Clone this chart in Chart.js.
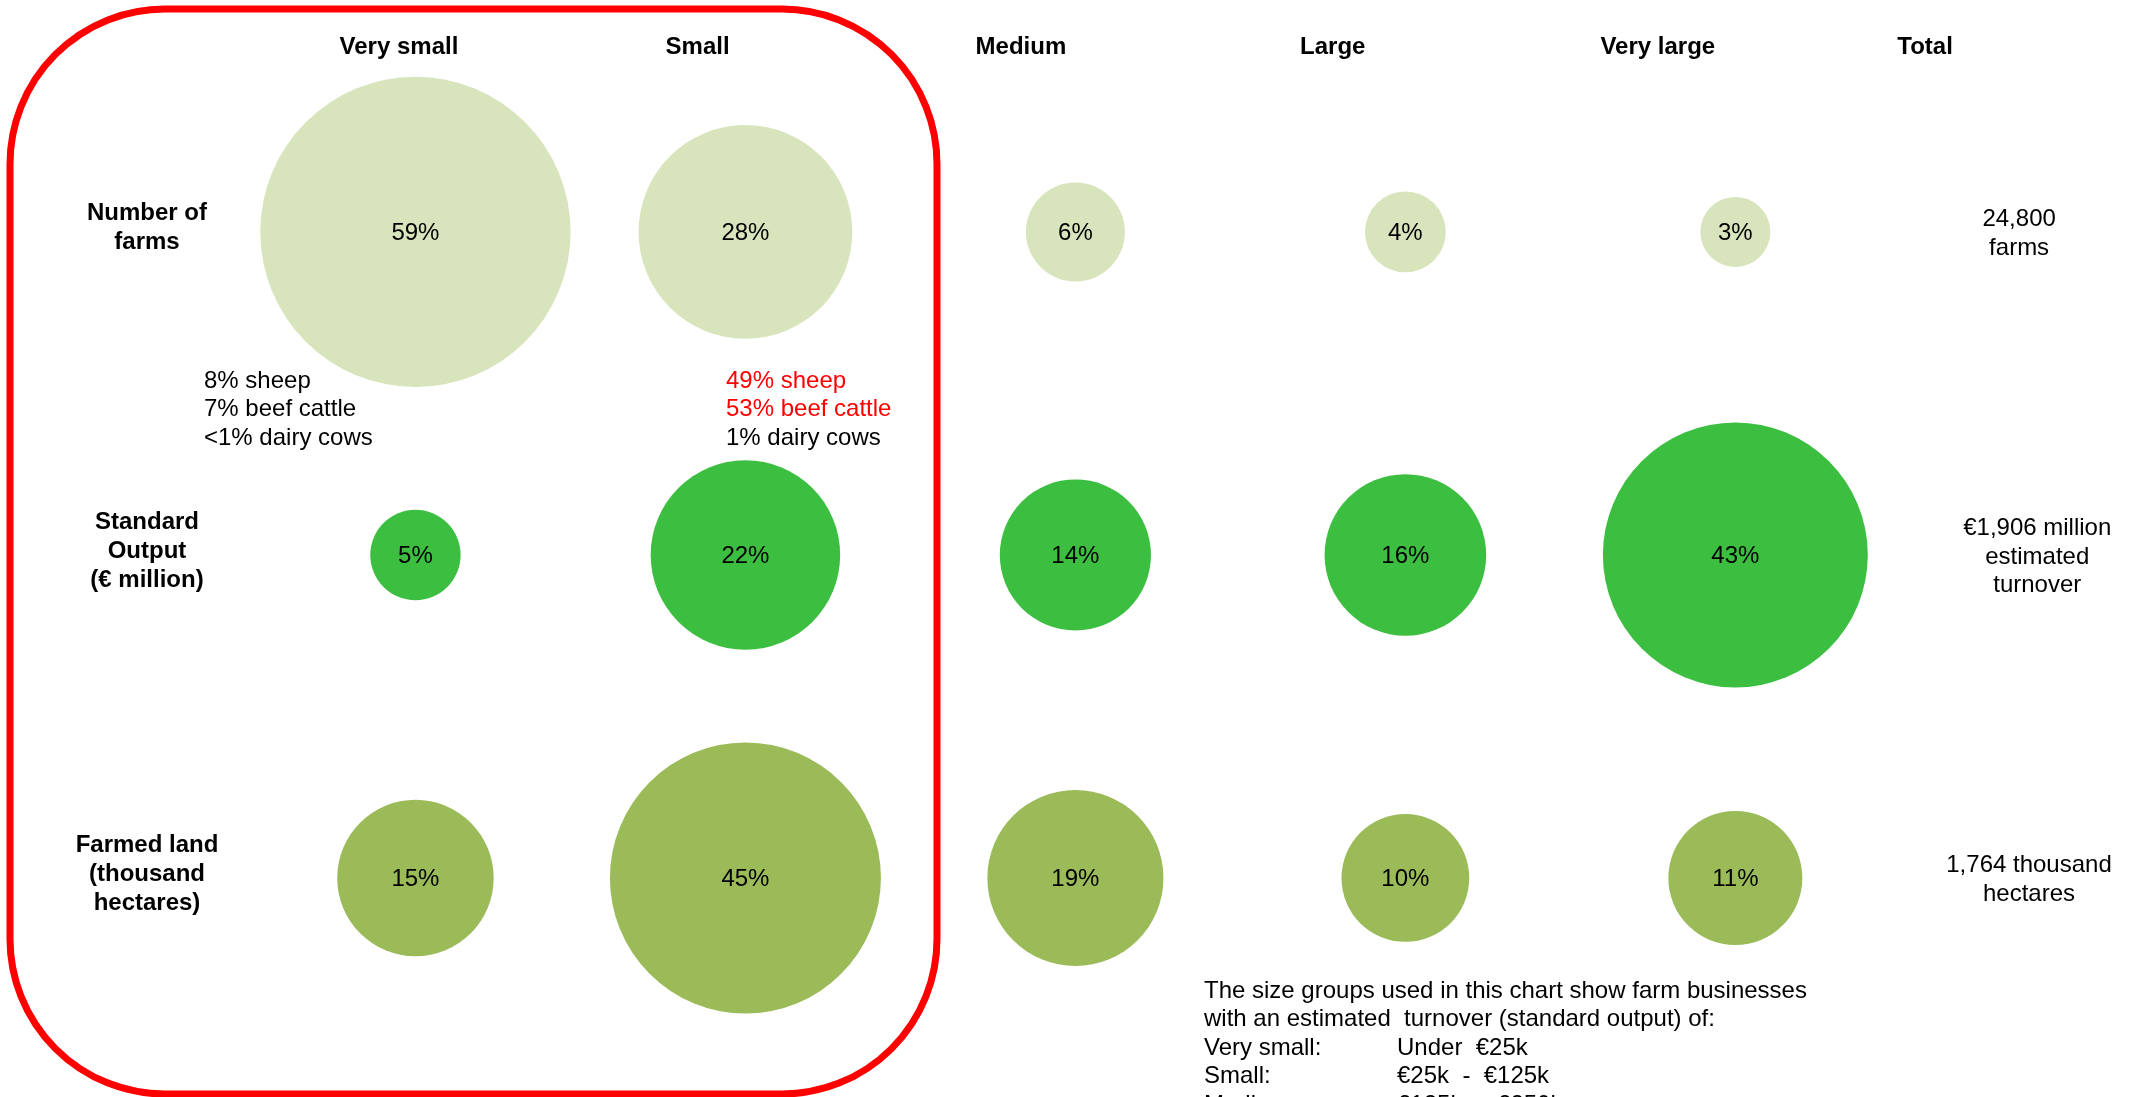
<!DOCTYPE html>
<html>
<head>
<meta charset="utf-8">
<title>Farm size groups</title>
<script src="https://cdn.jsdelivr.net/npm/chart.js@4/dist/chart.umd.min.js"></script>
<style>
    html, body { margin: 0; padding: 0; background: #FFFFFF; overflow: hidden; }
    #farmChart { display: block; }
</style>
</head>
<body>
<canvas id="farmChart" width="2129" height="1097"></canvas>
<script>
const sizeGroups = ["Very small", "Small", "Medium", "Large", "Very large"];
const farmsShare = [59, 28, 6, 4, 3];
const outputShare = [5, 22, 14, 16, 43];
const landShare = [15, 45, 19, 10, 11];

const rowLabels = [
    ["Number of", "farms"],
    ["Standard", "Output", "(\u20AC million)"],
    ["Farmed land", "(thousand", "hectares)"]
];
const totalLabels = [
    ["24,800", "farms"],
    ["\u20AC1,906 million", "estimated", "turnover"],
    ["1,764 thousand", "hectares"]
];
const verySmallNotes = ["8% sheep", "7% beef cattle", "<1% dairy cows"];
const smallNotes = ["49% sheep", "53% beef cattle", "1% dairy cows"];
const sizeGroupNote = [
    ["The size groups used in this chart show farm businesses", ""],
    ["with an estimated  turnover (standard output) of:", ""],
    ["Very small:", "Under  \u20AC25k"],
    ["Small:", "\u20AC25k  -  \u20AC125k"],
    ["Medium:", "\u20AC125k  -  \u20AC250k"]
];

const rowColors = ["#D8E4BC", "#3CBE41", "#9BBB59"];
const FONT = "'Liberation Sans', Arial, sans-serif";

// bubble area is proportional to the share
function radiusFor(share) {
    return 20.2 * Math.sqrt(share);
}

function toPoints(values, row) {
    return values.map((v, i) => ({ x: i, y: row, r: radiusFor(v), share: v }));
}

// header positions along the x scale (Total column included)
const headerX = [-0.05, 0.855, 1.835, 2.78, 3.765, 4.575];
const totalX = [4.86, 4.915, 4.89];

function drawLines(ctx, lines, x, yCenter, lineHeight) {
    const top = yCenter - (lines.length - 1) * lineHeight / 2;
    lines.forEach((line, i) => ctx.fillText(line, x, top + i * lineHeight));
}

const textPlugin = {
    id: "farmText",
    afterDatasetsDraw(chart) {
        const ctx = chart.ctx;
        const xs = chart.scales.x;
        const ys = chart.scales.y;
        ctx.save();
        ctx.textBaseline = "middle";

        // share labels in the bubbles
        ctx.fillStyle = "#000000";
        ctx.textAlign = "center";
        ctx.font = "24px " + FONT;
        chart.data.datasets.forEach((ds, di) => {
            chart.getDatasetMeta(di).data.forEach((el, i) => {
                ctx.fillText(ds.data[i].share + "%", el.x, el.y + 1);
            });
        });

        // column headers
        ctx.font = "bold 24px " + FONT;
        sizeGroups.concat(["Total"]).forEach((name, i) => {
            ctx.fillText(name, xs.getPixelForValue(headerX[i]), 47);
        });

        // row labels
        rowLabels.forEach((lines, r) => {
            drawLines(ctx, lines, 147, ys.getPixelForValue(r) - 4, 29);
        });

        // totals
        ctx.font = "24px " + FONT;
        totalLabels.forEach((lines, r) => {
            drawLines(ctx, lines, xs.getPixelForValue(totalX[r]), ys.getPixelForValue(r) + 2, 28.5);
        });

        // livestock notes under the first row
        ctx.textAlign = "left";
        verySmallNotes.forEach((line, i) => ctx.fillText(line, 204, 381 + i * 28.5));
        smallNotes.forEach((line, i) => {
            ctx.fillStyle = i < 2 ? "#FF0000" : "#000000";
            ctx.fillText(line, 726, 381 + i * 28.5);
        });

        // size group definitions
        ctx.fillStyle = "#000000";
        sizeGroupNote.forEach((cols, i) => {
            ctx.fillText(cols[0], 1204, 991 + i * 28.5);
            if (cols[1]) ctx.fillText(cols[1], 1397, 991 + i * 28.5);
        });

        // red frame round the two smallest groups
        ctx.strokeStyle = "#FF0000";
        ctx.lineWidth = 7;
        ctx.beginPath();
        ctx.roundRect(10, 9, 927, 1085, 155);
        ctx.stroke();
        ctx.restore();
    }
};

new Chart(document.getElementById("farmChart").getContext("2d"), {
    type: "bubble",
    data: {
        datasets: [
            { label: "Number of farms", data: toPoints(farmsShare, 0), backgroundColor: rowColors[0] },
            { label: "Standard Output", data: toPoints(outputShare, 1), backgroundColor: rowColors[1] },
            { label: "Farmed land", data: toPoints(landShare, 2), backgroundColor: rowColors[2] }
        ]
    },
    options: {
        responsive: false,
        animation: false,
        clip: false,
        layout: { padding: 0, autoPadding: false },
        elements: {
            point: { borderWidth: 0, hoverBorderWidth: 0 }
        },
        plugins: {
            legend: { display: false },
            tooltip: { enabled: false },
            title: { display: false }
        },
        scales: {
            x: { type: "linear", display: false, min: -1.259, max: 5.193 },
            y: { type: "linear", display: false, reverse: true, min: -0.718, max: 2.678 }
        }
    },
    plugins: [textPlugin]
});
</script>
</body>
</html>
